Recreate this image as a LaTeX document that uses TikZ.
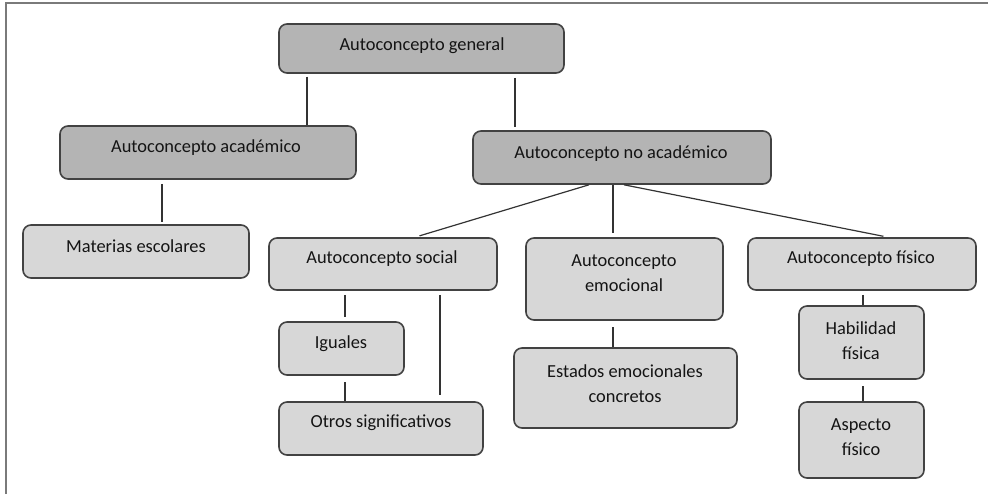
\documentclass[tikz,border=0pt]{standalone}
\usepackage{fontspec}
\setmainfont{Carlito}
\usetikzlibrary{fit}
\definecolor{darkfill}{HTML}{B4B4B4}
\definecolor{lightfill}{HTML}{D7D7D7}
\definecolor{edge}{HTML}{424242}
\definecolor{linec}{HTML}{333333}
\definecolor{framec}{HTML}{7A7A7A}
\tikzset{
  boxbase/.style={draw=edge, line width=1.2pt, rounded corners=6pt, inner sep=0pt},
  darkbox/.style={boxbase, fill=darkfill},
  lightbox/.style={boxbase, fill=lightfill},
  txt/.style={inner sep=0pt, align=center, text=black!92, font=\fontsize{13.8}{18.8}\selectfont},
  conn/.style={draw=linec, line width=0.9pt},
  framel/.style={draw=framec, line width=0.8pt}
}
\begin{document}
\begin{tikzpicture}[x=0.75pt,y=-0.75pt]
\useasboundingbox (0,0) rectangle (988,494);
% frame
\coordinate (fl) at (6,494);
\coordinate (fc) at (6,3);
\coordinate (fr) at (988,3);
\draw[framel] (fl) -- (fc) -- (fr);

% boxes
\node[darkbox, fit={(279,24) (564,73)}] (gen) {};
\node[darkbox, fit={(60,126) (356,179)}] (acad) {};
\node[darkbox, fit={(473,131) (771,184)}] (noac) {};
\node[lightbox, fit={(23,225) (249,278)}] (mat) {};
\node[lightbox, fit={(269,238) (497,290)}] (soc) {};
\node[lightbox, fit={(526,238) (723,320)}] (emo) {};
\node[lightbox, fit={(748,238) (976,290)}] (fis) {};
\node[lightbox, fit={(279,322) (404,375)}] (igu) {};
\node[lightbox, fit={(279,402) (483,455)}] (otr) {};
\node[lightbox, fit={(514,348) (737,428)}] (est) {};
\node[lightbox, fit={(799,306) (924,379)}] (hab) {};
\node[lightbox, fit={(799,402) (924,478)}] (asp) {};

% texts
\node[txt] (gent) at (422,46) {Autoconcepto general};
\node[txt] (acadt) at (206,148) {Autoconcepto académico};
\node[txt] (noact) at (621,153.5) {Autoconcepto no académico};
\node[txt] (matt) at (136,246) {Materias escolares};
\node[txt] (soct) at (382,259) {Autoconcepto social};
\node[txt] (emot) at (624,273.5) {Autoconcepto\\emocional};
\node[txt] (fist) at (861,259) {Autoconcepto físico};
\node[txt] (igut) at (341,344) {Iguales};
\node[txt] (otrt) at (381,423) {Otros significativos};
\node[txt] (estt) at (625,383.5) {Estados emocionales\\concretos};
\node[txt] (habt) at (861,341) {Habilidad\\física};
\node[txt] (aspt) at (861,437.5) {Aspecto\\físico};

% connectors
\draw[conn, shorten <=2.2pt] (gen.south -| 307,0) -- (acad.north -| 307,0);
\draw[conn, shorten <=3pt, shorten >=2.2pt] (gen.south -| 515,0) -- (noac.north -| 515,0);
\draw[conn, shorten <=3pt, shorten >=1.5pt] (acad.south -| 162,0) -- (mat.north -| 162,0);
\draw[conn, shorten >=3.5pt] (noac.south -| 589,0) -- (soc.north -| 415,0);
\draw[conn, shorten >=3pt] (noac.south -| 613,0) -- (emo.north -| 613,0);
\draw[conn, shorten >=3.5pt] (noac.south -| 624,0) -- (fis.north -| 888,0);
\draw[conn, shorten <=3pt, shorten >=3pt] (soc.south -| 345,0) -- (igu.north -| 345,0);
\draw[conn, shorten <=3pt, shorten >=5pt] (soc.south -| 440,0) -- (otr.north -| 440,0);
\draw[conn, shorten <=5pt] (igu.south -| 345,0) -- (otr.north -| 345,0);
\draw[conn, shorten <=5pt, shorten >=0.5pt] (emo.south -| 613,0) -- (est.north -| 613,0);
\draw[conn, shorten <=3pt] (fis.south -| 863,0) -- (hab.north -| 863,0);
\draw[conn, shorten <=5pt] (hab.south -| 863,0) -- (asp.north -| 863,0);
\end{tikzpicture}
\end{document}
